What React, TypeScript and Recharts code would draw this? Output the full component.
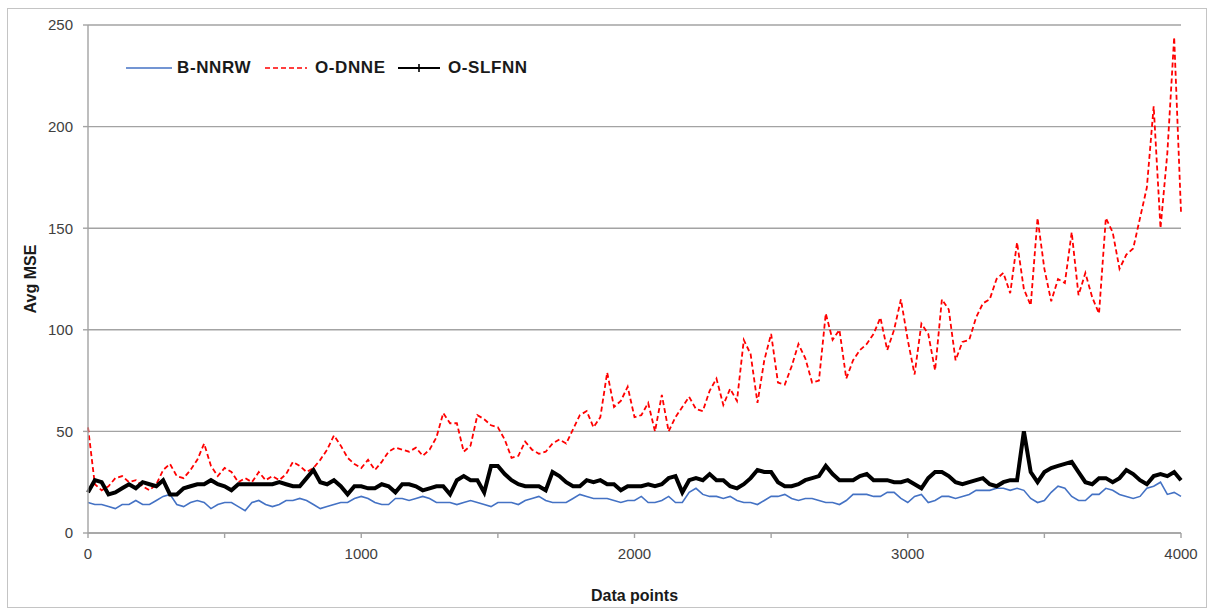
import React from 'react';
import { LineChart, Line, XAxis, YAxis, CartesianGrid, Legend } from 'recharts';

// Sampling interval (data points) between consecutive stored values
const STEP = 25;

// Avg MSE of B-NNRW
const bNNRW = [
  15, 14, 14, 13, 12, 14, 14, 16, 14, 14,
  16, 18, 19, 14, 13, 15, 16, 15, 12, 14,
  15, 15, 13, 11, 15, 16, 14, 13, 14, 16,
  16, 17, 16, 14, 12, 13, 14, 15, 15, 17,
  18, 17, 15, 14, 14, 17, 17, 16, 17, 18,
  17, 15, 15, 15, 14, 15, 16, 15, 14, 13,
  15, 15, 15, 14, 16, 17, 18, 16, 15, 15,
  15, 17, 19, 18, 17, 17, 17, 16, 15, 16,
  16, 18, 15, 15, 16, 18, 15, 15, 20, 22,
  19, 18, 18, 17, 18, 16, 15, 15, 14, 16,
  18, 18, 19, 17, 16, 17, 17, 16, 15, 15,
  14, 16, 19, 19, 19, 18, 18, 20, 20, 17,
  15, 18, 19, 15, 16, 18, 18, 17, 18, 19,
  21, 21, 21, 22, 22, 21, 22, 21, 17, 15,
  16, 20, 23, 22, 18, 16, 16, 19, 19, 22,
  21, 19, 18, 17, 18, 22, 23, 25, 19, 20,
  18,
];

// Avg MSE of O-DNNE
const oDNNE = [
  52, 24, 21, 23, 27, 28, 25, 26, 23, 21,
  24, 31, 34, 28, 27, 31, 36, 44, 33, 28,
  32, 30, 25, 27, 25, 30, 26, 28, 26, 29,
  35, 33, 30, 32, 36, 41, 48, 43, 37, 34,
  32, 36, 31, 35, 40, 42, 41, 40, 42, 38,
  41, 47, 59, 54, 54, 40, 43, 58, 56, 53,
  52, 46, 37, 38, 45, 41, 39, 40, 44, 46,
  44, 51, 58, 60, 52, 57, 79, 62, 65, 72,
  57, 58, 64, 50, 68, 50, 57, 62, 67, 61,
  60, 70, 76, 63, 71, 65, 95, 88, 64, 85,
  98, 74, 73, 82, 93, 86, 74, 75, 108, 95,
  100, 76, 85, 90, 93, 98, 106, 90, 100, 115,
  95, 78, 103, 98, 80, 115, 110, 85, 94, 95,
  106, 113, 115, 125, 128, 118, 143, 120, 112, 155,
  130, 114, 125, 123, 148, 117, 128, 116, 108, 155,
  148, 130, 137, 140, 155, 170, 210, 150, 187, 244,
  158,
];

// Avg MSE of O-SLFNN
const oSLFNN = [
  20, 26, 25, 19, 20, 22, 24, 22, 25, 24,
  23, 26, 19, 19, 22, 23, 24, 24, 26, 24,
  23, 21, 24, 24, 24, 24, 24, 24, 25, 24,
  23, 23, 27, 31, 25, 24, 26, 23, 19, 23,
  23, 22, 22, 24, 23, 20, 24, 24, 23, 21,
  22, 23, 23, 19, 26, 28, 26, 26, 20, 33,
  33, 29, 26, 24, 23, 23, 23, 21, 30, 28,
  25, 23, 23, 26, 25, 26, 24, 24, 21, 23,
  23, 23, 24, 23, 24, 27, 28, 20, 26, 27,
  26, 29, 26, 26, 23, 22, 24, 27, 31, 30,
  30, 25, 23, 23, 24, 26, 27, 28, 33, 29,
  26, 26, 26, 28, 29, 26, 26, 26, 25, 25,
  26, 24, 22, 27, 30, 30, 28, 25, 24, 25,
  26, 27, 24, 23, 25, 26, 26, 50, 30, 25,
  30, 32, 33, 34, 35, 30, 25, 24, 27, 27,
  25, 27, 31, 29, 26, 24, 28, 29, 28, 30,
  26,
];

const xTicks = [0, 500, 1000, 1500, 2000, 2500, 3000, 3500, 4000];
const xLabelled = [0, 1000, 2000, 3000, 4000];
const yTicks = [0, 50, 100, 150, 200, 250];

const seriesNames = ['B-NNRW', 'O-DNNE', 'O-SLFNN'];
const seriesColors = ['#4472C4', '#FF0000', '#000000'];

const rows = bNNRW.map((v, i) => ({
  x: i * STEP,
  b: v,
  d: oDNNE[i],
  s: oSLFNN[i],
}));

const FONT = '"Liberation Sans", Arial, sans-serif';
const AXIS_GRAY = '#a3a3a3';

const LegendContent = () => {
  // line sample, then text, for each series
  const layout = [
    { line: 0, text: 51, w: 46 },
    { line: 139, text: 189, w: 42 },
    { line: 272, text: 322, w: 42 },
  ];
  return (
    <div style={{ position: 'relative', width: 420, height: 20, fontFamily: FONT, fontWeight: 700, fontSize: 17, color: '#1a1a1a' }}>
      {seriesNames.map((name, i) => (
        <React.Fragment key={name}>
          <svg width={layout[i].w} height={20} style={{ position: 'absolute', left: layout[i].line, top: 0 }}>
            <line
              x1={0}
              y1={10}
              x2={layout[i].w}
              y2={10}
              stroke={seriesColors[i]}
              strokeWidth={i === 2 ? 2 : 1.6}
              strokeDasharray={i === 1 ? '5 3' : undefined}
            />
            {i === 2 && (
              <g stroke="#000" strokeWidth={1.6}>
                <line x1={layout[i].w / 2} y1={6} x2={layout[i].w / 2} y2={14} />
              </g>
            )}
          </svg>
          <span style={{ position: 'absolute', left: layout[i].text, top: 0, lineHeight: '20px', letterSpacing: 0.6, whiteSpace: 'nowrap' }}>
            {name}
          </span>
        </React.Fragment>
      ))}
    </div>
  );
};

export default function App() {
  return (
    <div
      style={{
        position: 'absolute',
        left: 7,
        top: 8,
        width: 1200,
        height: 600,
        border: '1px solid #c4c4c4',
        boxSizing: 'border-box',
        background: '#fff',
      }}
    >
      <LineChart
        width={1198}
        height={598}
        data={rows}
        margin={{ top: 16, right: 25, left: 0, bottom: 0 }}
      >
        <CartesianGrid vertical={false} stroke={AXIS_GRAY} strokeWidth={1.4} />
        <XAxis
          dataKey="x"
          type="number"
          domain={[0, 4000]}
          ticks={xTicks}
          interval={0}
          tickFormatter={(v: number) => (xLabelled.includes(v) ? String(v) : '')}
          height={74}
          tickSize={5}
          tickMargin={10}
          axisLine={{ stroke: AXIS_GRAY, strokeWidth: 1.4 }}
          tickLine={{ stroke: AXIS_GRAY, strokeWidth: 1.4 }}
          tick={{ fill: '#404040', fontSize: 15, fontFamily: FONT }}
          label={{ value: 'Data points', position: 'insideBottom', offset: 6, fill: '#1a1a1a', fontSize: 16, fontWeight: 700, fontFamily: FONT }}
        />
        <YAxis
          type="number"
          domain={[0, 250]}
          ticks={yTicks}
          interval={0}
          width={80}
          tickSize={5}
          tickMargin={10}
          axisLine={{ stroke: AXIS_GRAY, strokeWidth: 1.4 }}
          tickLine={{ stroke: AXIS_GRAY, strokeWidth: 1.4 }}
          tick={{ fill: '#404040', fontSize: 15, fontFamily: FONT }}
          label={{ value: 'Avg MSE', angle: -90, position: 'insideLeft', offset: 22, fill: '#1a1a1a', fontSize: 16, fontWeight: 700, fontFamily: FONT, style: { textAnchor: 'middle' } }}
        />
        <Legend
          layout="horizontal"
          verticalAlign="middle"
          align="center"
          content={() => <LegendContent />}
          wrapperStyle={{ left: 118, top: 49, width: 430, height: 20 }}
        />
        <Line
          type="linear"
          dataKey="b"
          name={seriesNames[0]}
          stroke={seriesColors[0]}
          strokeWidth={1.6}
          dot={false}
          isAnimationActive={false}
        />
        <Line
          type="linear"
          dataKey="d"
          name={seriesNames[1]}
          stroke={seriesColors[1]}
          strokeWidth={1.8}
          strokeDasharray="5 3"
          dot={false}
          isAnimationActive={false}
        />
        <Line
          type="linear"
          dataKey="s"
          name={seriesNames[2]}
          stroke={seriesColors[2]}
          strokeWidth={4}
          dot={false}
          isAnimationActive={false}
        />
      </LineChart>
    </div>
  );
}
